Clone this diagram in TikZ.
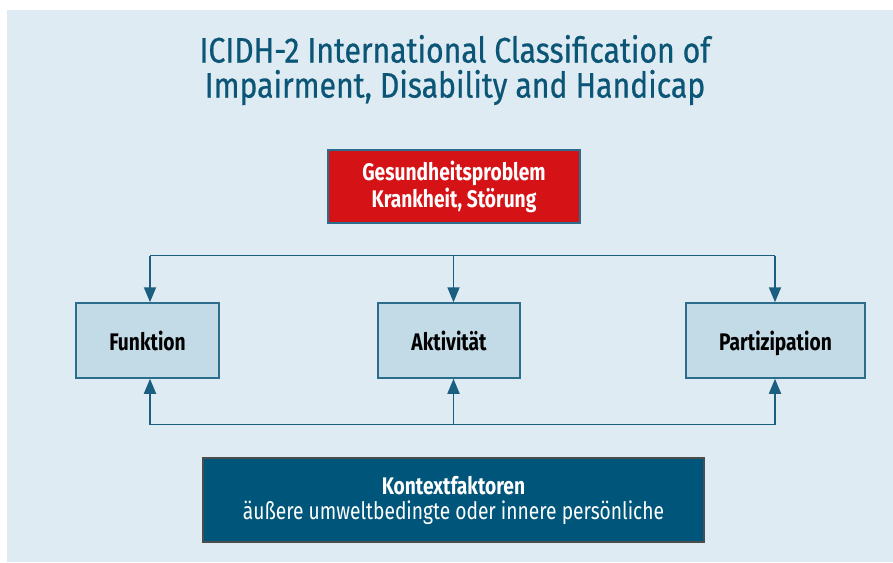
\documentclass[tikz,border=0pt]{standalone}
\usepackage{fontspec}
\setmainfont{Fira Sans}[FakeStretch=0.8]
\newfontfamily\headfont{Fira Sans}[FakeStretch=0.85, FakeBold=0.6]
\usetikzlibrary{arrows.meta}

\definecolor{panelbg}{HTML}{DFEBF3}
\definecolor{titleblue}{HTML}{0B5576}
\definecolor{boxfill}{HTML}{C3DAE7}
\definecolor{boxline}{HTML}{2C6C8C}
\definecolor{linkblue}{HTML}{1A5F80}
\definecolor{healthred}{HTML}{D51317}
\definecolor{contextblue}{HTML}{00567A}

\tikzset{
  factor/.style={draw=boxline, line width=1.5pt, fill=boxfill, minimum height=75pt,
    text height=24pt, text depth=4pt, font=\fontsize{24}{27}\selectfont\bfseries},
  link/.style={draw=linkblue, line width=1.8pt},
  tip/.style={-{Triangle[width=12pt,length=15pt]}}
}

\begin{document}
\begin{tikzpicture}[x=1pt, y=-1pt]
    \useasboundingbox (0,0) rectangle (893,562);
    \fill[panelbg] (7,10) rectangle (893,562);

    % title
    \node[text=titleblue, align=center, font=\headfont\fontsize{35.5}{35}\selectfont] (title) at (455,70)
        {ICIDH-2 International Classification of\\Impairment, Disability and Handicap};

    % boxes
    \node[draw=boxline, line width=1.5pt, fill=healthred, text=white, align=center,
        minimum width=252pt, minimum height=73pt, font=\fontsize{24}{27}\selectfont\bfseries] (health) at (454,186.5)
        {Gesundheitsproblem\\Krankheit, Störung};
    \node[factor, minimum width=143pt] (fun) at (147.5,340.5) {Funktion};
    \node[factor, minimum width=142pt] (akt) at (449,340.5) {Aktivität};
    \node[factor, minimum width=179pt] (par) at (775.5,340.5) {Partizipation};
    \node[draw=black!70, line width=1.2pt, fill=contextblue, text=white, align=center,
        minimum width=501pt, minimum height=84pt, font=\fontsize{24}{25}\selectfont] (ctx) at (453.5,500)
        {\textbf{Kontextfaktoren}\\äußere umweltbedingte oder innere persönliche};

    % top line with arrows down
    \coordinate (tl) at (150,255.5);
    \coordinate (tm) at (453.5,255.5);
    \coordinate (tr) at (775,255.5);
    \draw[link] (tl) -- (tr);
    \draw[link, tip] (tl) -- (tl |- fun.north);
    \draw[link, tip] (tm) -- (tm |- akt.north);
    \draw[link, tip] (tr) -- (tr |- par.north);

    % bottom line with arrows up
    \coordinate (bl) at (150,424.5);
    \coordinate (bm) at (453.5,424.5);
    \coordinate (br) at (775,424.5);
    \draw[link] (bl) -- (br);
    \draw[link, tip] (bl) -- (bl |- fun.south);
    \draw[link, tip] (bm) -- (bm |- akt.south);
    \draw[link, tip] (br) -- (br |- par.south);
\end{tikzpicture}
\end{document}
